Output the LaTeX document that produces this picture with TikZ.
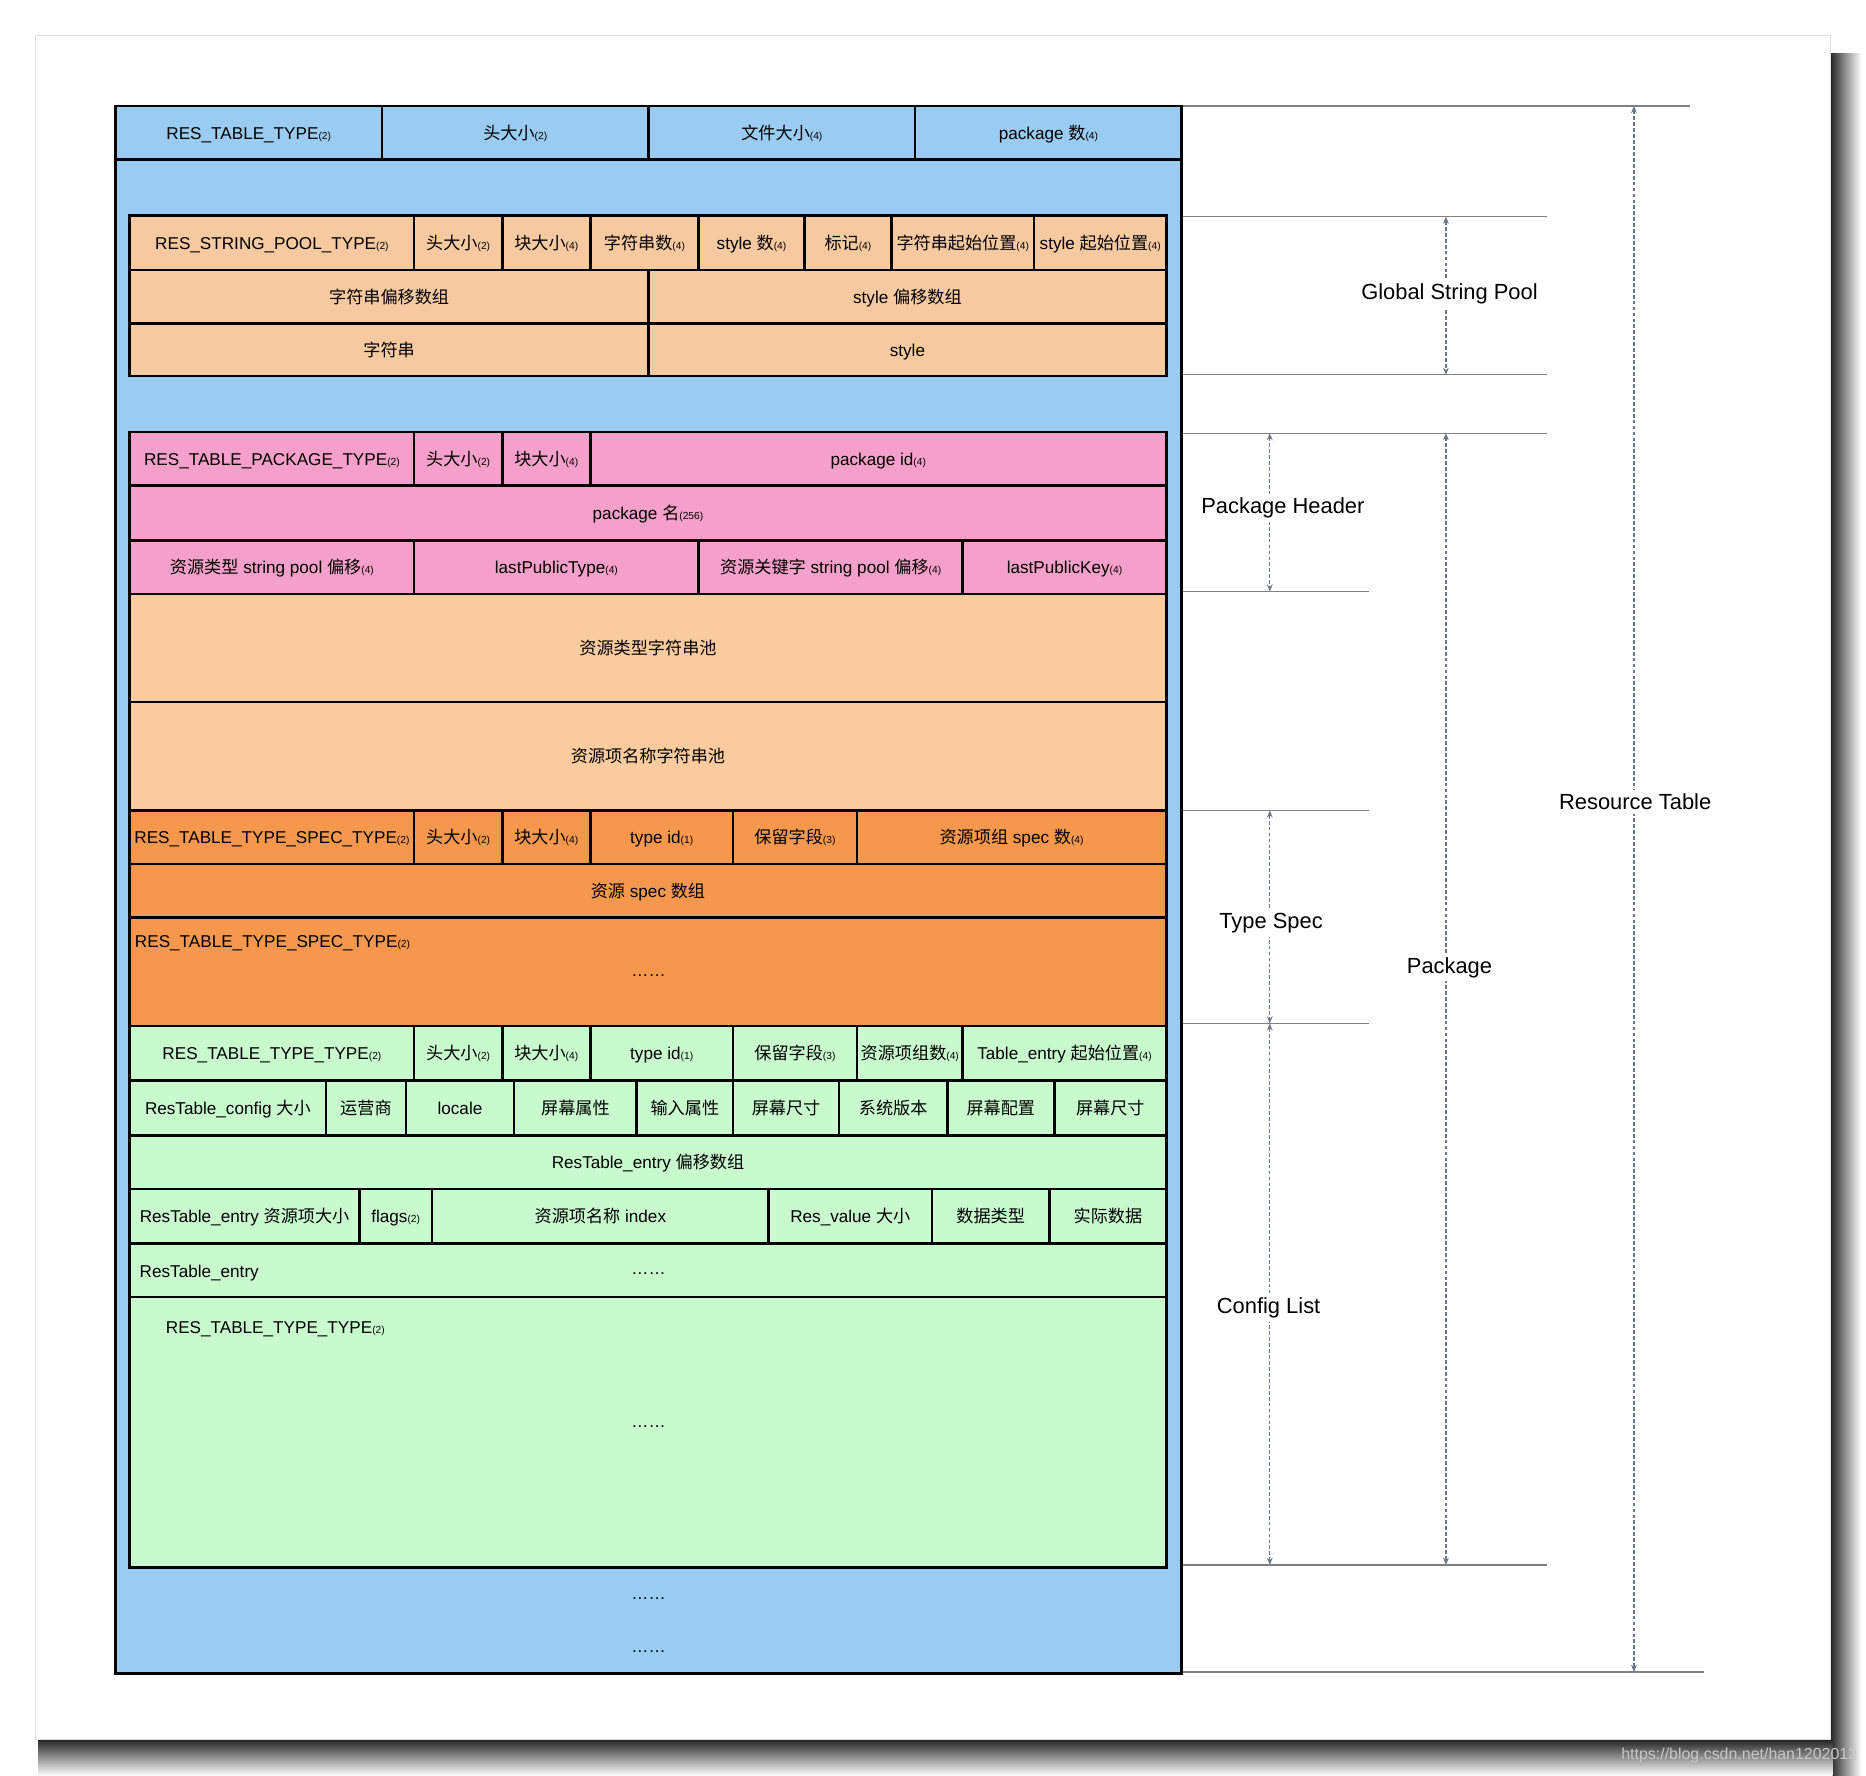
\documentclass[tikz,border=0pt]{standalone}
\usepackage{fontspec}
\setmainfont{Liberation Sans}
\newfontfamily\zhfont{Noto Sans CJK SC}
\usepackage{tikz}
\usetikzlibrary{arrows.meta}
\usetikzlibrary{calc}

\definecolor{rtblue}{RGB}{154,203,240}
\definecolor{poolpeach}{RGB}{247,201,160}
\definecolor{pkgpink}{RGB}{245,160,202}
\definecolor{strpeach}{RGB}{250,203,158}
\definecolor{specorange}{RGB}{245,152,78}
\definecolor{cfggreen}{RGB}{201,250,206}
\definecolor{dimgray}{RGB}{105,118,140}

\newcommand{\zh}[1]{{\zhfont #1}}
\newcommand{\bsz}[1]{{\fontsize{4.3}{5}\selectfont(#1)}}
% celda: nombre, x1, y1, x2, y2, color, texto
\newcommand{\memcell}[7]{%
	\filldraw[box,fill=#6] (#2,#3) rectangle (#4,#5);
	\node[txt] (#1) at ($(#2,#3)!.5!(#4,#5)$) {#7};}

\begin{document}
\begin{tikzpicture}[x=.5pt,y=-.5pt,
		box/.style={draw=black,line width=1.1pt},
		txt/.style={font=\fontsize{7.2}{8.5}\selectfont,inner sep=0pt,text height=6.3pt,text depth=.9pt},
		ellip/.style={font=\fontsize{7.2}{8.5}\selectfont,inner sep=0pt},
		guide/.style={draw=black!50,line width=.5pt},
		dimline/.style={draw=dimgray,line width=.5pt,dash pattern=on 1.6pt off .9pt,
			{Stealth[length=3pt,width=2.4pt]}-{Stealth[length=3pt,width=2.4pt]}},
		lbl/.style={font=\fontsize{9.2}{11}\selectfont,fill=white,inner sep=1.5pt}]
	\useasboundingbox (0,0) rectangle (1568,1492);
	%hoja y sombra
	\fill[white] (0,0) rectangle (1568,1492);
	\shade[left color=black!85,right color=white] (1538,45) rectangle (1564,1492);
	\shade[top color=black!85,bottom color=white] (32,1462) rectangle (1540,1492);
	\filldraw[fill=white,draw=black!12,line width=.5pt] (30,30) rectangle (1538,1462);
	\node[font=\fontsize{6.7}{8}\selectfont,text=black!22,anchor=west,inner sep=0pt] (wm) at (1362,1475) {https://blog.csdn.net/han1202012};
	
	%resource table
	\filldraw[box,fill=rtblue] (97,89) rectangle (993,1406);
	\memcell{rt1}{97}{89}{321}{134}{rtblue}{RES\_TABLE\_TYPE\bsz{2}}
	\memcell{rt2}{321}{89}{545}{134}{rtblue}{\zh{头大小}\bsz{2}}
	\memcell{rt3}{545}{89}{769}{134}{rtblue}{\zh{文件大小}\bsz{4}}
	\memcell{rt4}{769}{89}{993}{134}{rtblue}{package \zh{数}\bsz{4}}
	
	%global string pool
	\memcell{sp1}{109}{181}{348}{227}{poolpeach}{RES\_STRING\_POOL\_TYPE\bsz{2}}
	\memcell{sp2}{348}{181}{422}{227}{poolpeach}{\zh{头大小}\bsz{2}}
	\memcell{sp3}{422}{181}{496}{227}{poolpeach}{\zh{块大小}\bsz{4}}
	\memcell{sp4}{496}{181}{587}{227}{poolpeach}{\zh{字符串数}\bsz{4}}
	\memcell{sp5}{587}{181}{676}{227}{poolpeach}{style \zh{数}\bsz{4}}
	\memcell{sp6}{676}{181}{749}{227}{poolpeach}{\zh{标记}\bsz{4}}
	\memcell{sp7}{749}{181}{869}{227}{poolpeach}{\zh{字符串起始位置}\bsz{4}}
	\memcell{sp8}{869}{181}{980}{227}{poolpeach}{style \zh{起始位置}\bsz{4}}
	\memcell{sp9}{109}{227}{545}{272}{poolpeach}{\zh{字符串偏移数组}}
	\memcell{sp10}{545}{227}{980}{272}{poolpeach}{style \zh{偏移数组}}
	\memcell{sp11}{109}{272}{545}{316}{poolpeach}{\zh{字符串}}
	\memcell{sp12}{545}{272}{980}{316}{poolpeach}{style}
	
	%package header
	\memcell{ph1}{109}{363}{348}{408}{pkgpink}{RES\_TABLE\_PACKAGE\_TYPE\bsz{2}}
	\memcell{ph2}{348}{363}{422}{408}{pkgpink}{\zh{头大小}\bsz{2}}
	\memcell{ph3}{422}{363}{496}{408}{pkgpink}{\zh{块大小}\bsz{4}}
	\memcell{ph4}{496}{363}{980}{408}{pkgpink}{package id\bsz{4}}
	\memcell{ph5}{109}{408}{980}{454}{pkgpink}{package \zh{名}\bsz{256}}
	\memcell{ph6}{109}{454}{348}{499}{pkgpink}{\zh{资源类型} string pool \zh{偏移}\bsz{4}}
	\memcell{ph7}{348}{454}{587}{499}{pkgpink}{lastPublicType\bsz{4}}
	\memcell{ph8}{587}{454}{809}{499}{pkgpink}{\zh{资源关键字} string pool \zh{偏移}\bsz{4}}
	\memcell{ph9}{809}{454}{980}{499}{pkgpink}{lastPublicKey\bsz{4}}
	\memcell{tsp}{109}{499}{980}{590}{strpeach}{\zh{资源类型字符串池}}
	\memcell{ksp}{109}{590}{980}{681}{strpeach}{\zh{资源项名称字符串池}}
	
	%type spec
	\memcell{ts1}{109}{681}{348}{726}{specorange}{RES\_TABLE\_TYPE\_SPEC\_TYPE\bsz{2}}
	\memcell{ts2}{348}{681}{422}{726}{specorange}{\zh{头大小}\bsz{2}}
	\memcell{ts3}{422}{681}{496}{726}{specorange}{\zh{块大小}\bsz{4}}
	\memcell{ts4}{496}{681}{616}{726}{specorange}{type id\bsz{1}}
	\memcell{ts5}{616}{681}{720}{726}{specorange}{\zh{保留字段}\bsz{3}}
	\memcell{ts6}{720}{681}{980}{726}{specorange}{\zh{资源项组} spec \zh{数}\bsz{4}}
	\memcell{ts7}{109}{726}{980}{771}{specorange}{\zh{资源} spec \zh{数组}}
	\memcell{ts8}{109}{771}{980}{862}{specorange}{}
	\node[txt,anchor=west] (ts9) at (113,791) {RES\_TABLE\_TYPE\_SPEC\_TYPE\bsz{2}};
	\node[ellip] (ts10) at (545,820) {……};
	
	%config list
	\memcell{tt1}{109}{862}{348}{908}{cfggreen}{RES\_TABLE\_TYPE\_TYPE\bsz{2}}
	\memcell{tt2}{348}{862}{422}{908}{cfggreen}{\zh{头大小}\bsz{2}}
	\memcell{tt3}{422}{862}{496}{908}{cfggreen}{\zh{块大小}\bsz{4}}
	\memcell{tt4}{496}{862}{616}{908}{cfggreen}{type id\bsz{1}}
	\memcell{tt5}{616}{862}{720}{908}{cfggreen}{\zh{保留字段}\bsz{3}}
	\memcell{tt6}{720}{862}{809}{908}{cfggreen}{\zh{资源项组数}\bsz{4}}
	\memcell{tt7}{809}{862}{980}{908}{cfggreen}{Table\_entry \zh{起始位置}\bsz{4}}
	\memcell{cf1}{109}{908}{274}{954}{cfggreen}{ResTable\_config \zh{大小}}
	\memcell{cf2}{274}{908}{341}{954}{cfggreen}{\zh{运营商}}
	\memcell{cf3}{341}{908}{432}{954}{cfggreen}{locale}
	\memcell{cf4}{432}{908}{535}{954}{cfggreen}{\zh{屏幕属性}}
	\memcell{cf5}{535}{908}{616}{954}{cfggreen}{\zh{输入属性}}
	\memcell{cf6}{616}{908}{705}{954}{cfggreen}{\zh{屏幕尺寸}}
	\memcell{cf7}{705}{908}{796}{954}{cfggreen}{\zh{系统版本}}
	\memcell{cf8}{796}{908}{886}{954}{cfggreen}{\zh{屏幕配置}}
	\memcell{cf9}{886}{908}{980}{954}{cfggreen}{\zh{屏幕尺寸}}
	\memcell{eo}{109}{954}{980}{999}{cfggreen}{ResTable\_entry \zh{偏移数组}}
	\memcell{en1}{109}{999}{302}{1045}{cfggreen}{ResTable\_entry \zh{资源项大小}}
	\memcell{en2}{302}{999}{363}{1045}{cfggreen}{flags\bsz{2}}
	\memcell{en3}{363}{999}{646}{1045}{cfggreen}{\zh{资源项名称} index}
	\memcell{en4}{646}{999}{783}{1045}{cfggreen}{Res\_value \zh{大小}}
	\memcell{en5}{783}{999}{882}{1045}{cfggreen}{\zh{数据类型}}
	\memcell{en6}{882}{999}{980}{1045}{cfggreen}{\zh{实际数据}}
	\memcell{en7}{109}{1045}{980}{1090}{cfggreen}{}
	\node[txt,anchor=west] (en8) at (117,1068) {ResTable\_entry};
	\node[ellip] (en9) at (545,1070) {……};
	\memcell{tt8}{109}{1090}{980}{1317}{cfggreen}{}
	\node[txt,anchor=west] (tt9) at (139,1115) {RES\_TABLE\_TYPE\_TYPE\bsz{2}};
	\node[ellip] (tt10) at (545,1199) {……};
	\node[ellip] (rt5) at (545,1343) {……};
	\node[ellip] (rt6) at (545,1388) {……};
	
	%lineas guia
	\foreach \y/\x in {89/1420,182/1300,315/1300,364/1300,497/1150,681/1150,860/1150,1315/1300,1405/1432}
		\draw[guide] (994,\y) -- (\x,\y);
	
	%cotas
	\coordinate (gspT) at (1215,182); \coordinate (gspB) at (1215,315);
	\coordinate (phdT) at (1067,364); \coordinate (phdB) at (1067,497);
	\coordinate (pkgT) at (1215,364); \coordinate (pkgB) at (1215,1315);
	\coordinate (tspT) at (1067,681); \coordinate (tspB) at (1067,860);
	\coordinate (cfgT) at (1067,860); \coordinate (cfgB) at (1067,1315);
	\coordinate (rtbT) at (1373,89); \coordinate (rtbB) at (1373,1405);
	\draw[dimline] (gspT) -- (gspB);
	\draw[dimline] (phdT) -- (phdB);
	\draw[dimline] (pkgT) -- (pkgB);
	\draw[dimline] (tspT) -- (tspB);
	\draw[dimline] (cfgT) -- (cfgB);
	\draw[dimline] (rtbT) -- (rtbB);
	\node[lbl] (gsp) at (1218,247) {Global String Pool};
	\node[lbl] (phd) at (1078,427) {Package Header};
	\node[lbl] (pkg) at (1218,813) {Package};
	\node[lbl] (tsp) at (1068,776) {Type Spec};
	\node[lbl] (cfg) at (1066,1099) {Config List};
	\node[lbl] (rtb) at (1374,674) {Resource Table};
\end{tikzpicture}
\end{document}
